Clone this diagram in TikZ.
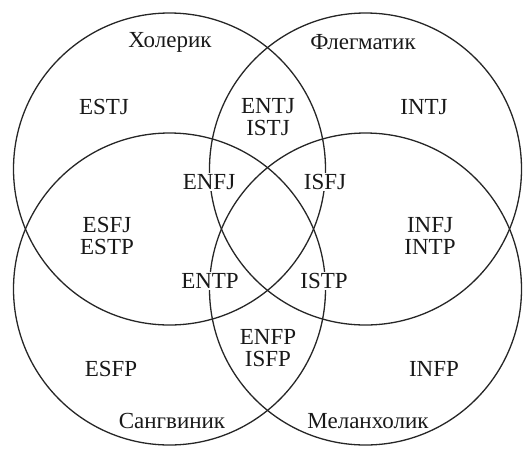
\documentclass[tikz,border=0pt]{standalone}
\usepackage{fontspec}
\setmainfont{Liberation Serif}
\begin{document}
\begin{tikzpicture}[x=1pt,y=-1pt,
  ring/.style={draw=black!85,line width=1.3pt},
  lbl/.style={fill=white,inner sep=1.5pt,align=center,font=\fontsize{23}{22}\selectfont,text=black!90},
  tmpname/.style={inner sep=1pt,font=\fontsize{23}{22}\selectfont,text=black!90}]
\useasboundingbox (0,0) rectangle (524,448);
\coordinate (cTL) at (169.5,169);
\coordinate (cTR) at (365.5,169);
\coordinate (cBL) at (169.5,289);
\coordinate (cBR) at (365.5,289);
\draw[ring] (cTL) circle[radius=156];
\draw[ring] (cTR) circle[radius=156];
\draw[ring] (cBL) circle[radius=156];
\draw[ring] (cBR) circle[radius=156];
\node[tmpname] (hol) at (170,42) {Холерик};
\node[tmpname] (fle) at (363,42) {Флегматик};
\node[tmpname] (san) at (172,421) {Сангвиник};
\node[tmpname] (mel) at (368,421) {Меланхолик};
\node[lbl] (estj) at (104,107) {ESTJ};
\node[lbl] (entj) at (268,117) {ENTJ\\ISTJ};
\node[lbl] (intj) at (424,107) {INTJ};
\node[lbl] (enfj) at (209,182) {ENFJ};
\node[lbl] (isfj) at (325,182) {ISFJ};
\node[lbl] (esfj) at (107,236) {ESFJ\\ESTP};
\node[lbl] (infj) at (430,236) {INFJ\\INTP};
\node[lbl] (entp) at (210,281) {ENTP};
\node[lbl] (istp) at (324,281) {ISTP};
\node[lbl] (enfp) at (268,348) {ENFP\\ISFP};
\node[lbl] (esfp) at (111,369) {ESFP};
\node[lbl] (infp) at (434,369) {INFP};
\end{tikzpicture}
\end{document}
